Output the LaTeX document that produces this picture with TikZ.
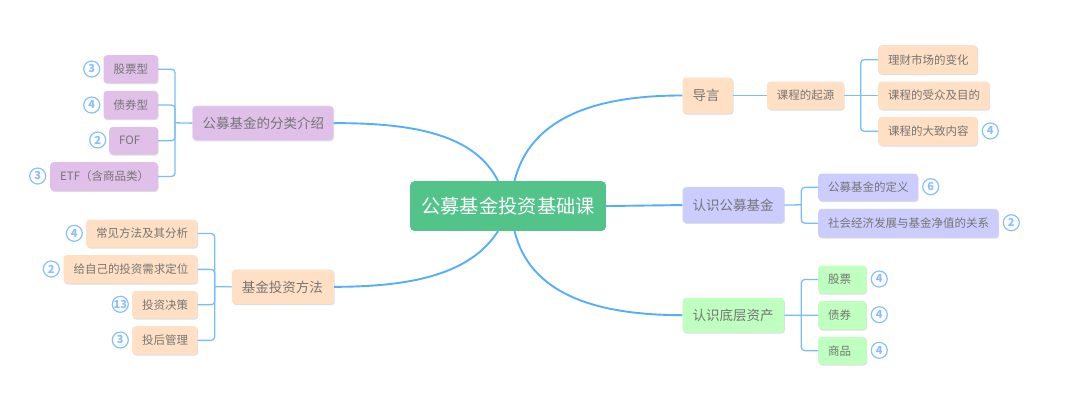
\documentclass[tikz,border=0pt]{standalone}
\usepackage{fontspec}
\setmainfont{Noto Sans CJK SC}
\usetikzlibrary{shadows}
\definecolor{txt}{HTML}{757575}
\definecolor{mainline}{HTML}{55AEFA}
\definecolor{subline}{HTML}{78BEFC}
\definecolor{badgeblue}{HTML}{88C0FF}
\definecolor{rootgreen}{HTML}{52C48A}
\definecolor{cpurple}{HTML}{E0C0E8}
\definecolor{cpeach}{HTML}{FFE0C4}
\definecolor{clav}{HTML}{CCCCFF}
\definecolor{cgreen}{HTML}{BFFFBF}
\tikzset{
  wh/.style 2 args={minimum width=#1 pt,minimum height=#2 pt,text width={(#1-20)*1pt}},
  base/.style={anchor=north west,rounded corners=3.5pt,inner xsep=10pt,inner ysep=0pt,align=left,
    text=txt,drop shadow={shadow xshift=.7pt,shadow yshift=-1pt,fill=black!22,opacity=.6}},
  big/.style={base,font=\fontsize{13.5}{16}\selectfont},
  small/.style={base,font=\fontsize{11.5}{14}\selectfont},
  purple/.style={fill=cpurple},
  peach/.style={fill=cpeach},
  lav/.style={fill=clav},
  mint/.style={fill=cgreen},
  rootbox/.style={anchor=north west,rounded corners=4pt,fill=rootgreen,text=white,align=center,inner xsep=10pt,inner ysep=0pt,
    font=\fontsize{19.3}{24}\selectfont},
  badge/.style={circle,draw=badgeblue,line width=1.2pt,fill=white,text=badgeblue,minimum size=16pt,inner sep=0pt,
    font=\fontsize{11}{12}\selectfont\bfseries},
  mainl/.style={draw=mainline,line width=1.9pt},
  subl/.style={draw=subline,line width=1.3pt},
  elbow/.style={subl,rounded corners=3.5pt},
}
\begin{document}
\begin{tikzpicture}[x=1pt,y=-1pt]
\useasboundingbox (0,0) rectangle (1080,418);
% root
\node[rootbox,minimum width=195.7pt,minimum height=49.7pt] (root) at (410,181) {公募基金投资基础课};
% left top
\node[big,purple,wh={140.7}{34.3},draw=black!10!blue!15,line width=.6pt] (classify) at (192.3,105.7) {公募基金的分类介绍};
\node[small,purple,wh={54.4}{28}] (gp) at (103.3,55) {股票型};
\node[small,purple,wh={54.4}{28.3}] (zq) at (103.3,90.7) {债券型};
\node[small,purple,wh={48.7}{27.7}] (fof) at (109,126.7) {FOF};
\node[small,purple,wh={107.7}{28.7}] (etf) at (50,162) {ETF（含商品类）};
\node[badge] (bgp) at (91.7,69) {3};
\node[badge] (bzq) at (91.7,105) {4};
\node[badge] (bfof) at (97.7,140) {2};
\node[badge] (betf) at (37.7,176) {3};
% left bottom
\node[big,peach,wh={102}{34.7}] (method) at (231.7,269.3) {基金投资方法};
\node[small,peach,wh={111.3}{28}] (cj) at (86,219.3) {常见方法及其分析};
\node[small,peach,wh={134}{28.3}] (gz) at (63.3,255) {给自己的投资需求定位};
\node[small,peach,wh={65.3}{27.7}] (jc) at (132,290.7) {投资决策};
\node[small,peach,wh={65.3}{28.3}] (th) at (132,326) {投后管理};
\node[badge] (bcj) at (74.3,233.3) {4};
\node[badge] (bgz) at (51.3,269) {2};
\node[badge] (bjc) at (120.3,304.3) {13};
\node[badge] (bth) at (120.3,340) {3};
% right top
\node[big,peach,wh={50.4}{36}] (lead) at (682.3,77.3) {导言};
\node[small,peach,wh={77}{28}] (origin) at (766.7,81.3) {课程的起源};
\node[small,peach,wh={99.3}{29}] (lc) at (878,45) {理财市场的变化};
\node[small,peach,wh={111.3}{28}] (sz) at (878,81.3) {课程的受众及目的};
\node[small,peach,wh={99.3}{28.6}] (dz) at (878,116.7) {课程的大致内容};
\node[badge] (bdz) at (990.3,131) {4};
% right middle
\node[big,lav,wh={101.7}{35.7}] (know) at (682.3,187) {认识公募基金};
\node[small,lav,wh={99.7}{27.7}] (def) at (818,173.3) {公募基金的定义};
\node[small,lav,wh={180.3}{28.6}] (soc) at (818,208.7) {社会经济发展与基金净值的关系};
\node[badge] (bdef) at (930.7,186.7) {6};
\node[badge] (bsoc) at (1011.3,222.7) {2};
% right bottom
\node[big,mint,wh={101.7}{34.6}] (asset) at (682.3,297.7) {认识底层资产};
\node[small,mint,wh={48.3}{28}] (st) at (818,265.3) {股票};
\node[small,mint,wh={48.3}{28.3}] (bd) at (818,301) {债券};
\node[small,mint,wh={48.3}{27.6}] (cm) at (818,336.7) {商品};
\node[badge] (bst) at (879.3,279) {4};
\node[badge] (bbd) at (879.3,314.7) {4};
\node[badge] (bcm) at (879.3,350.3) {4};
% main curves
\draw[mainl] ([xshift=6.5pt]root.north) .. controls (530,118) and (595,95.3) .. (lead.west);
\draw[mainl] (root.east) -- (know.west);
\draw[mainl] ([xshift=6.5pt]root.south) .. controls (530,294) and (595,315) .. (asset.west);
\draw[mainl] ([xshift=-10pt]root.north) .. controls (475,135) and (415,122.8) .. (classify.east);
\draw[mainl] ([xshift=-10pt]root.south) .. controls (470,275) and (410,286.7) .. (method.east);
% buses
\coordinate (busA) at (175,122.8);
\coordinate (busB) at (214.7,286.7);
\coordinate (busC) at (860.7,95.3);
\coordinate (busD) at (801.3,204.8);
\coordinate (busE) at (801.3,315);
\draw[subl] (classify.west) -- (busA);
\draw[elbow] (gp.east) -| (busA);
\draw[elbow] (zq.east) -| (busA);
\draw[elbow] (fof.east) -| (busA);
\draw[elbow] (etf.east) -| (busA);
\draw[subl] (method.west) -- (busB);
\draw[elbow] (cj.east) -| (busB);
\draw[elbow] (gz.east) -| (busB);
\draw[elbow] (jc.east) -| (busB);
\draw[elbow] (th.east) -| (busB);
\draw[subl] (lead.east) -- (origin.west);
\draw[subl] (origin.east) -- (sz.west);
\draw[elbow] (lc.west) -| (busC);
\draw[elbow] (dz.west) -| (busC);
\draw[subl] (know.east) -- (busD);
\draw[elbow] (def.west) -| (busD);
\draw[elbow] (soc.west) -| (busD);
\draw[subl] (asset.east) -- (bd.west);
\draw[elbow] (st.west) -| (busE);
\draw[elbow] (cm.west) -| (busE);
\end{tikzpicture}
\end{document}
